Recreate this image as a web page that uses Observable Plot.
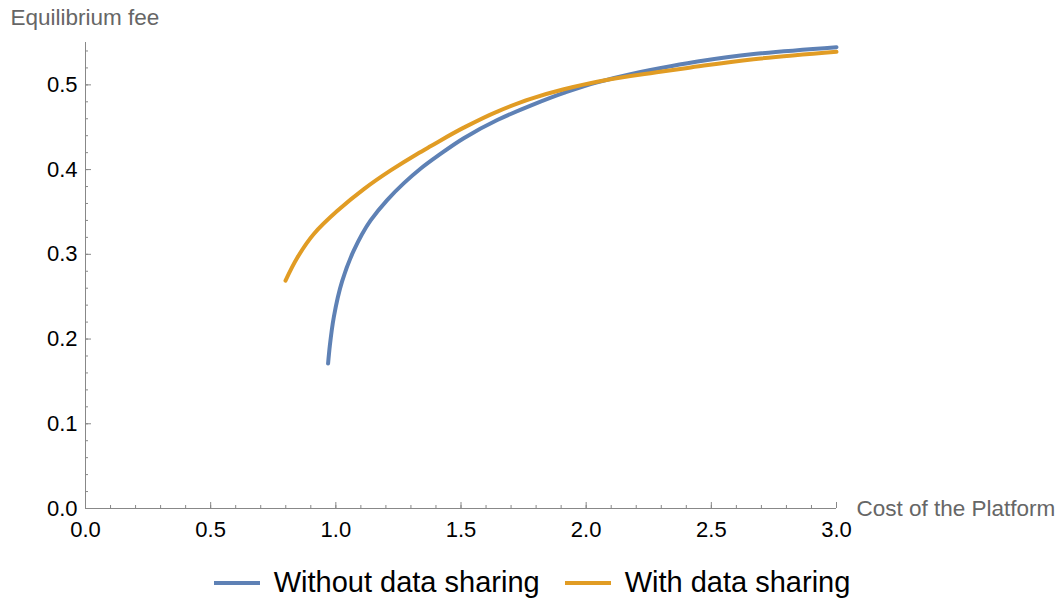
<!DOCTYPE html>
<html>
<head>
<meta charset="utf-8">
<script src="https://cdn.jsdelivr.net/npm/d3@7"></script>
<script src="https://cdn.jsdelivr.net/npm/@observablehq/plot@0.6"></script>
<style>
  body { margin: 0; background: #fff; font-family: "Liberation Sans", Arial, sans-serif; }
  #legend { display: flex; justify-content: center; align-items: center; gap: 25px; margin-top: 21px; font-size: 29px; color: #000; }
  .item { display: flex; align-items: center; gap: 14px; }
  .sw { width: 46px; height: 4px; }
</style>
</head>
<body>
<div id="chart"></div>
<div id="legend"></div>
<script>
// Without data sharing (blue)
const blueCost = [0.969, 0.976, 0.992, 1.025, 1.071, 1.139, 1.205, 1.272, 1.338, 1.411, 1.511, 1.645, 1.778, 1.911, 2.044, 2.177, 2.257, 2.405, 2.669, 3.0];
const blueFee  = [0.171, 0.192, 0.226, 0.268, 0.304, 0.340, 0.364, 0.384, 0.401, 0.417, 0.437, 0.4585, 0.4755, 0.4905, 0.503, 0.5126, 0.5175, 0.5255, 0.5365, 0.5445];
// With data sharing (orange)
const orangeCost = [0.799, 0.846, 0.912, 1.005, 1.112, 1.219, 1.325, 1.378, 1.511, 1.645, 1.778, 1.911, 2.044, 2.177, 2.257, 2.405, 2.669, 3.0];
const orangeFee  = [0.269, 0.296, 0.324, 0.351, 0.377, 0.399, 0.4185, 0.4275, 0.4495, 0.4685, 0.4835, 0.4948, 0.5037, 0.5104, 0.5138, 0.5200, 0.5303, 0.539];

const seriesNames = ["Without data sharing", "With data sharing"];
const seriesColors = ["#5E81B5", "#E19C24"];

const xMajor = [0, 0.5, 1, 1.5, 2, 2.5, 3];
const xMinor = d3.range(0, 31).map(i => i / 10);
const yMajor = [0, 0.1, 0.2, 0.3, 0.4, 0.5];
const yMinor = d3.range(0, 28).map(i => i / 50);

const data = [
  ...blueCost.map((c, i) => ({cost: c, fee: blueFee[i], series: seriesNames[0]})),
  ...orangeCost.map((c, i) => ({cost: c, fee: orangeFee[i], series: seriesNames[1]}))
];

const W = 1064, H = 545;
const mL = 85, mR = 228, mT = 42, mB = 37;
const pw = W - mL - mR, ph = H - mT - mB;
const axisColor = "#888";

const chart = Plot.plot({
  width: W, height: H,
  marginLeft: mL, marginRight: mR, marginTop: mT, marginBottom: mB,
  style: {fontFamily: "'Liberation Sans', Arial, sans-serif", fontSize: "22px", color: "#000", background: "#fff"},
  x: {domain: [0, 3]},
  y: {domain: [0, 0.55]},
  color: {domain: seriesNames, range: seriesColors},
  marks: [
    Plot.ruleY([0], {stroke: axisColor}),
    Plot.ruleX([0], {stroke: axisColor}),
    // x ticks (inward)
    Plot.ruleX(xMinor, {stroke: axisColor, insetTop: ph - 3}),
    Plot.ruleX(xMajor, {stroke: axisColor, insetTop: ph - 6}),
    // y ticks (inward)
    Plot.ruleY(yMinor.filter(v => v <= 0.55), {stroke: axisColor, insetRight: pw - 3}),
    Plot.ruleY(yMajor, {stroke: axisColor, insetRight: pw - 6}),
    Plot.axisX(xMajor, {tickSize: 0, tickPadding: 13, tickFormat: d3.format(".1f"), label: null, fontSize: 22}),
    Plot.axisY(yMajor, {tickSize: 0, tickPadding: 8, tickFormat: d3.format(".1f"), label: null, fontSize: 22}),
    Plot.line(data, {x: "cost", y: "fee", z: "series", stroke: "series", strokeWidth: 4, curve: "monotone-y"}),
    Plot.text(["Cost of the Platform"], {frameAnchor: "bottom-right", dx: 20, dy: 7, textAnchor: "start", fill: "#666", fontSize: 22.5}),
    Plot.text(["Equilibrium fee"], {frameAnchor: "top-left", dx: -75, dy: -33, textAnchor: "start", fill: "#666", fontSize: 22.5})
  ]
});
document.getElementById("chart").appendChild(chart);

const legend = document.getElementById("legend");
seriesNames.forEach((n, i) => {
  const it = document.createElement("div");
  it.className = "item";
  const sw = document.createElement("div");
  sw.className = "sw";
  sw.style.background = seriesColors[i];
  const t = document.createElement("span");
  t.textContent = n;
  it.appendChild(sw); it.appendChild(t);
  legend.appendChild(it);
});
</script>
</body>
</html>
